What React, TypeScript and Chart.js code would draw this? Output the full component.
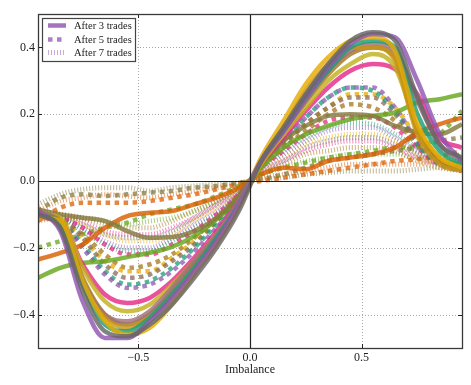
import React, { useEffect, useRef } from "react";
import { Chart, registerables } from "chart.js";

Chart.register(...registerables);

// ---------- data ----------
const xs = [-0.95, -0.85, -0.75, -0.65, -0.55, -0.45, -0.35, -0.25, -0.15, -0.05, 0.05, 0.15, 0.25, 0.35, 0.45, 0.55, 0.65, 0.75, 0.85, 0.95];
const xTicks = [-0.5, 0, 0.5];
const yTicks = [-0.4, -0.2, 0, 0.2, 0.4];
const legendLabels = ["After 3 trades", "After 5 trades", "After 7 trades"];
const xTitle = "Imbalance";

// After 3 trades (solid)
const s3Purple = [-0.09, -0.15, -0.36, -0.47, -0.47, -0.42, -0.35, -0.27, -0.18, -0.07, 0.06, 0.15, 0.25, 0.34, 0.41, 0.44, 0.43, 0.3, 0.14, 0.06];
const s3Gray = [-0.1, -0.14, -0.33, -0.45, -0.465, -0.43, -0.37, -0.29, -0.2, -0.09, 0.06, 0.16, 0.26, 0.35, 0.42, 0.445, 0.42, 0.25, 0.11, 0.07];
const s3Teal = [-0.1, -0.13, -0.31, -0.43, -0.45, -0.41, -0.34, -0.26, -0.17, -0.07, 0.06, 0.15, 0.25, 0.33, 0.4, 0.42, 0.4, 0.2, 0.09, 0.05];
const s3Gold = [-0.11, -0.12, -0.3, -0.42, -0.46, -0.44, -0.37, -0.28, -0.19, -0.08, 0.07, 0.18, 0.29, 0.37, 0.42, 0.43, 0.39, 0.17, 0.07, 0.04];
const s3Mauve = [-0.09, -0.13, -0.3, -0.4, -0.42, -0.39, -0.32, -0.24, -0.16, -0.06, 0.06, 0.15, 0.24, 0.33, 0.39, 0.41, 0.39, 0.24, 0.11, 0.06];
const s3Brown = [-0.1, -0.12, -0.29, -0.4, -0.43, -0.4, -0.33, -0.25, -0.17, -0.07, 0.06, 0.15, 0.24, 0.32, 0.38, 0.4, 0.37, 0.15, 0.06, 0.03];
const s3Ochre = [-0.1, -0.13, -0.31, -0.41, -0.44, -0.41, -0.35, -0.27, -0.18, -0.07, 0.06, 0.16, 0.27, 0.35, 0.4, 0.4, 0.36, 0.14, 0.05, 0.03];
const s3Yellow = [-0.1, -0.11, -0.26, -0.36, -0.39, -0.37, -0.31, -0.24, -0.16, -0.07, 0.05, 0.14, 0.22, 0.3, 0.35, 0.38, 0.34, 0.16, 0.07, 0.05];
const s3Pink = [-0.11, -0.12, -0.25, -0.34, -0.365, -0.35, -0.3, -0.23, -0.15, -0.06, 0.05, 0.13, 0.21, 0.28, 0.33, 0.35, 0.335, 0.26, 0.13, 0.1];
const s3Olive = [-0.085, -0.1, -0.11, -0.12, -0.15, -0.17, -0.168, -0.15, -0.11, -0.045, 0.05, 0.12, 0.165, 0.195, 0.2, 0.195, 0.165, 0.145, 0.14, 0.17];
const s3Green = [-0.29, -0.26, -0.245, -0.24, -0.228, -0.215, -0.197, -0.165, -0.115, -0.05, 0.04, 0.1, 0.14, 0.165, 0.185, 0.195, 0.205, 0.235, 0.245, 0.26];
const s3Orange = [-0.235, -0.215, -0.19, -0.14, -0.105, -0.095, -0.09, -0.07, -0.05, -0.02, 0.02, 0.04, 0.035, 0.06, 0.07, 0.08, 0.1, 0.145, 0.17, 0.19];

// After 5 trades (square dots)
const s5Purple = [-0.1, -0.12, -0.2, -0.28, -0.32, -0.31, -0.27, -0.21, -0.14, -0.06, 0.05, 0.12, 0.19, 0.25, 0.28, 0.28, 0.22, 0.12, 0.06, 0.04];
const s5Teal = [-0.1, -0.12, -0.19, -0.27, -0.31, -0.3, -0.26, -0.2, -0.13, -0.05, 0.05, 0.12, 0.19, 0.25, 0.28, 0.27, 0.21, 0.11, 0.05, 0.03];
const s5Taupe = [-0.1, -0.11, -0.17, -0.25, -0.29, -0.28, -0.24, -0.19, -0.12, -0.05, 0.05, 0.11, 0.17, 0.22, 0.25, 0.25, 0.2, 0.12, 0.06, 0.04];
const s5Gold = [-0.11, -0.12, -0.17, -0.24, -0.27, -0.27, -0.23, -0.18, -0.12, -0.05, 0.04, 0.11, 0.17, 0.22, 0.26, 0.26, 0.22, 0.13, 0.07, 0.04];
const s5Brown = [-0.1, -0.12, -0.16, -0.22, -0.26, -0.25, -0.22, -0.17, -0.11, -0.04, 0.04, 0.1, 0.15, 0.2, 0.23, 0.22, 0.18, 0.11, 0.06, 0.05];
const s5Pink = [-0.1, -0.11, -0.14, -0.19, -0.22, -0.22, -0.19, -0.15, -0.1, -0.04, 0.04, 0.09, 0.14, 0.18, 0.19, 0.19, 0.16, 0.1, 0.05, 0.04];
const s5Olive = [-0.09, -0.05, -0.04, -0.045, -0.04, -0.035, -0.03, -0.02, -0.015, -0.005, 0.005, 0.02, 0.04, 0.06, 0.07, 0.08, 0.09, 0.1, 0.12, 0.13];
const s5Orange = [-0.12, -0.08, -0.065, -0.065, -0.065, -0.06, -0.05, -0.04, -0.025, -0.01, 0.0, 0.01, 0.02, 0.03, 0.04, 0.05, 0.06, 0.065, 0.075, 0.09];
const s5Green = [-0.2, -0.18, -0.16, -0.14, -0.125, -0.1, -0.085, -0.07, -0.045, -0.015, 0.02, 0.04, 0.055, 0.07, 0.08, 0.09, 0.1, 0.1, 0.14, 0.21];

// After 7 trades (fine dots)
const f7Teal = [-0.1, -0.11, -0.15, -0.19, -0.21, -0.21, -0.18, -0.14, -0.1, -0.04, 0.04, 0.09, 0.13, 0.16, 0.175, 0.17, 0.14, 0.1, 0.06, 0.04];
const f7Purple = [-0.1, -0.11, -0.14, -0.18, -0.2, -0.2, -0.17, -0.13, -0.09, -0.04, 0.04, 0.08, 0.12, 0.15, 0.16, 0.16, 0.13, 0.09, 0.06, 0.04];
const f7Gray = [-0.1, -0.11, -0.13, -0.16, -0.17, -0.17, -0.15, -0.11, -0.07, -0.03, 0.03, 0.06, 0.1, 0.12, 0.13, 0.13, 0.11, 0.08, 0.05, 0.03];
const f7Gold = [-0.09, -0.1, -0.13, -0.16, -0.18, -0.18, -0.16, -0.12, -0.08, -0.03, 0.03, 0.07, 0.11, 0.13, 0.14, 0.14, 0.12, 0.08, 0.05, 0.04];
const f7Pink = [-0.09, -0.1, -0.12, -0.15, -0.16, -0.16, -0.14, -0.11, -0.07, -0.03, 0.03, 0.06, 0.09, 0.11, 0.12, 0.12, 0.1, 0.07, 0.05, 0.03];
const f7Brown = [-0.1, -0.1, -0.11, -0.13, -0.14, -0.14, -0.12, -0.09, -0.06, -0.02, 0.02, 0.05, 0.08, 0.09, 0.1, 0.1, 0.09, 0.06, 0.04, 0.03];
const f7Green = [-0.12, -0.11, -0.11, -0.12, -0.13, -0.12, -0.11, -0.09, -0.06, -0.02, 0.02, 0.04, 0.06, 0.07, 0.08, 0.08, 0.08, 0.07, 0.07, 0.08];
const f7Orange = [-0.09, -0.06, -0.05, -0.04, -0.045, -0.05, -0.04, -0.03, -0.02, -0.01, 0.01, 0.02, 0.03, 0.04, 0.05, 0.05, 0.05, 0.05, 0.06, 0.06];
const f7Olive = [-0.07, -0.04, -0.025, -0.02, -0.02, -0.03, -0.02, -0.015, -0.01, -0.005, 0.005, 0.01, 0.02, 0.025, 0.03, 0.03, 0.03, 0.035, 0.04, 0.04];

// ---------- styles ----------
const C = {
  teal: "#1b9e77",
  orange: "#d95f02",
  purple: "#9055b0",
  pink: "#e7298a",
  green: "#66a61e",
  gold: "#e6ab02",
  brown: "#a6761d",
  gray: "#666666",
  olive: "#857a3e",
  mauve: "#a0707a",
  ochre: "#c8961a",
  yellow: "#c2b01c",
  taupe: "#8a6a55",
};

function rgba(hex: string, a: number) {
  const n = parseInt(hex.slice(1), 16);
  return `rgba(${(n >> 16) & 255},${(n >> 8) & 255},${n & 255},${a})`;
}

const solidSeries: [number[], string][] = [
  [s3Orange, C.orange],
  [s3Green, C.green],
  [s3Olive, C.olive],
  [s3Pink, C.pink],
  [s3Yellow, C.yellow],
  [s3Brown, C.brown],
  [s3Mauve, C.mauve],
  [s3Ochre, C.ochre],
  [s3Teal, C.teal],
  [s3Gold, C.gold],
  [s3Purple, C.purple],
  [s3Gray, C.gray],
];
const squareSeries: [number[], string][] = [
  [s5Purple, C.purple],
  [s5Teal, C.teal],
  [s5Taupe, C.taupe],
  [s5Gold, C.gold],
  [s5Brown, C.brown],
  [s5Pink, C.pink],
  [s5Olive, C.olive],
  [s5Orange, C.orange],
  [s5Green, C.green],
];
const fineSeries: [number[], string][] = [
  [f7Teal, C.teal],
  [f7Purple, C.purple],
  [f7Gray, C.gray],
  [f7Gold, C.gold],
  [f7Pink, C.pink],
  [f7Brown, C.brown],
  [f7Green, C.green],
  [f7Orange, C.orange],
  [f7Olive, C.olive],
];

const SERIF = '"Liberation Serif", "DejaVu Serif", serif';
const fmt = (v: number) => {
  const s = Math.abs(v).toFixed(1);
  return v < -1e-9 ? "\u2212" + s : s;
};

function makeDataset(vals: number[], color: string, kind: "solid" | "square" | "fine") {
  const base = {
    data: xs.map((x, i) => ({ x, y: vals[i] })),
    pointRadius: 0,
    cubicInterpolationMode: "monotone" as const,
    fill: false,
    borderCapStyle: "butt" as const,
    borderJoinStyle: "round" as const,
  };
  if (kind === "solid") return { ...base, borderColor: rgba(color, 0.82), borderWidth: 4.5 };
  if (kind === "square") return { ...base, borderColor: rgba(color, 0.75), borderWidth: 4.5, borderDash: [4.5, 4.5] };
  return { ...base, borderColor: rgba(color, 0.55), borderWidth: 5, borderDash: [1, 2] };
}

const decor = {
  id: "decor",
  beforeDatasetsDraw(chart: any) {
    const { ctx, chartArea: a, scales } = chart;
    const xS = scales.x, yS = scales.y;
    ctx.save();
    ctx.strokeStyle = "#a8a8a8";
    ctx.lineWidth = 1;
    ctx.setLineDash([1, 2]);
    for (const t of xTicks) {
      if (t === 0) continue;
      const px = Math.round(xS.getPixelForValue(t)) + 0.5;
      ctx.beginPath(); ctx.moveTo(px, a.top); ctx.lineTo(px, a.bottom); ctx.stroke();
    }
    for (const t of yTicks) {
      if (t === 0) continue;
      const py = Math.round(yS.getPixelForValue(t)) + 0.5;
      ctx.beginPath(); ctx.moveTo(a.left, py); ctx.lineTo(a.right, py); ctx.stroke();
    }
    ctx.restore();
  },
  afterDatasetsDraw(chart: any) {
    const { ctx, chartArea: a, scales } = chart;
    const xS = scales.x, yS = scales.y;
    ctx.save();
    ctx.setLineDash([]);
    // zero lines
    ctx.strokeStyle = "#222";
    ctx.lineWidth = 1.2;
    const x0 = Math.round(xS.getPixelForValue(0)) + 0.5;
    const y0 = Math.round(yS.getPixelForValue(0)) + 0.5;
    ctx.beginPath(); ctx.moveTo(x0, a.top); ctx.lineTo(x0, a.bottom); ctx.stroke();
    ctx.beginPath(); ctx.moveTo(a.left, y0); ctx.lineTo(a.right, y0); ctx.stroke();
    // ticks (inside)
    ctx.lineWidth = 1;
    for (const t of yTicks) {
      const py = Math.round(yS.getPixelForValue(t)) + 0.5;
      ctx.beginPath(); ctx.moveTo(a.left, py); ctx.lineTo(a.left + 4, py); ctx.stroke();
      ctx.beginPath(); ctx.moveTo(a.right, py); ctx.lineTo(a.right - 4, py); ctx.stroke();
    }
    for (const t of xTicks) {
      const px = Math.round(xS.getPixelForValue(t)) + 0.5;
      ctx.beginPath(); ctx.moveTo(px, a.bottom); ctx.lineTo(px, a.bottom - 4); ctx.stroke();
      ctx.beginPath(); ctx.moveTo(px, a.top); ctx.lineTo(px, a.top + 4); ctx.stroke();
    }
    // frame
    ctx.strokeStyle = "#3a3a3a";
    ctx.lineWidth = 1.3;
    ctx.strokeRect(Math.round(a.left) + 0.5, Math.round(a.top) + 0.5, Math.round(a.right - a.left), Math.round(a.bottom - a.top));
    // legend
    const lx = 42.5, ly = 18.5, lw = 93, lh = 43;
    ctx.fillStyle = "#fff";
    ctx.fillRect(lx, ly, lw, lh);
    ctx.strokeStyle = "#444";
    ctx.lineWidth = 1.2;
    ctx.strokeRect(lx, ly, lw, lh);
    const rows = [25.5, 39.5, 52.5];
    const styles = [
      { c: rgba(C.purple, 0.82), w: 4.5, d: [] as number[] },
      { c: rgba(C.purple, 0.75), w: 4.5, d: [4.5, 4.5] },
      { c: rgba(C.purple, 0.5), w: 5, d: [1, 2] },
    ];
    ctx.textBaseline = "middle";
    ctx.textAlign = "left";
    ctx.font = `10.5px ${SERIF}`;
    rows.forEach((ry, i) => {
      const s = styles[i];
      ctx.strokeStyle = s.c;
      ctx.lineWidth = s.w;
      ctx.lineCap = "butt";
      ctx.setLineDash(s.d);
      ctx.beginPath(); ctx.moveTo(48, ry); ctx.lineTo(66, ry); ctx.stroke();
      ctx.setLineDash([]);
      ctx.fillStyle = "#222";
      ctx.fillText(legendLabels[i], 74, ry + 0.5);
    });
    ctx.restore();
  },
};

export default function App() {
  const ref = useRef<HTMLCanvasElement | null>(null);
  useEffect(() => {
    if (!ref.current) return;
    const datasets = [
      ...solidSeries.slice().reverse().map(([v, c]) => makeDataset(v, c, "solid")),
      ...squareSeries.map(([v, c]) => makeDataset(v, c, "square")),
      ...fineSeries.map(([v, c]) => makeDataset(v, c, "fine")),
    ];
    const chart = new Chart(ref.current, {
      type: "line",
      data: { datasets: datasets as any },
      options: {
        animation: false,
        responsive: false,
        devicePixelRatio: 1,
        layout: { padding: { top: 14, right: 9, left: 0, bottom: 0 } },
        plugins: { legend: { display: false }, tooltip: { enabled: false } },
        scales: {
          x: {
            type: "linear",
            min: -0.95,
            max: 0.95,
            afterBuildTicks: (s: any) => { s.ticks = xTicks.map((v) => ({ value: v })); },
            afterFit: (s: any) => { s.height = 37; },
            grid: { display: false, drawTicks: false },
            border: { display: false },
            ticks: { callback: (v: any) => fmt(Number(v)), font: { family: SERIF, size: 12 }, color: "#222", padding: 3, maxRotation: 0 },
            title: { display: true, text: xTitle, font: { family: SERIF, size: 12 }, color: "#222", padding: { top: 0, bottom: 8 } },
          },
          y: {
            type: "linear",
            min: -0.5,
            max: 0.5,
            afterBuildTicks: (s: any) => { s.ticks = yTicks.map((v) => ({ value: v })); },
            afterFit: (s: any) => { s.width = 38; },
            grid: { display: false, drawTicks: false },
            border: { display: false },
            ticks: { callback: (v: any) => fmt(Number(v)), font: { family: SERIF, size: 12 }, color: "#222", padding: 3 },
          },
        },
      },
      plugins: [decor],
    });
    return () => chart.destroy();
  }, []);
  return (
    <div style={{ position: "absolute", left: 0, top: 0, width: 471, height: 385, background: "#fff" }}>
      <canvas ref={ref} width={471} height={385} style={{ display: "block" }} />
    </div>
  );
}
